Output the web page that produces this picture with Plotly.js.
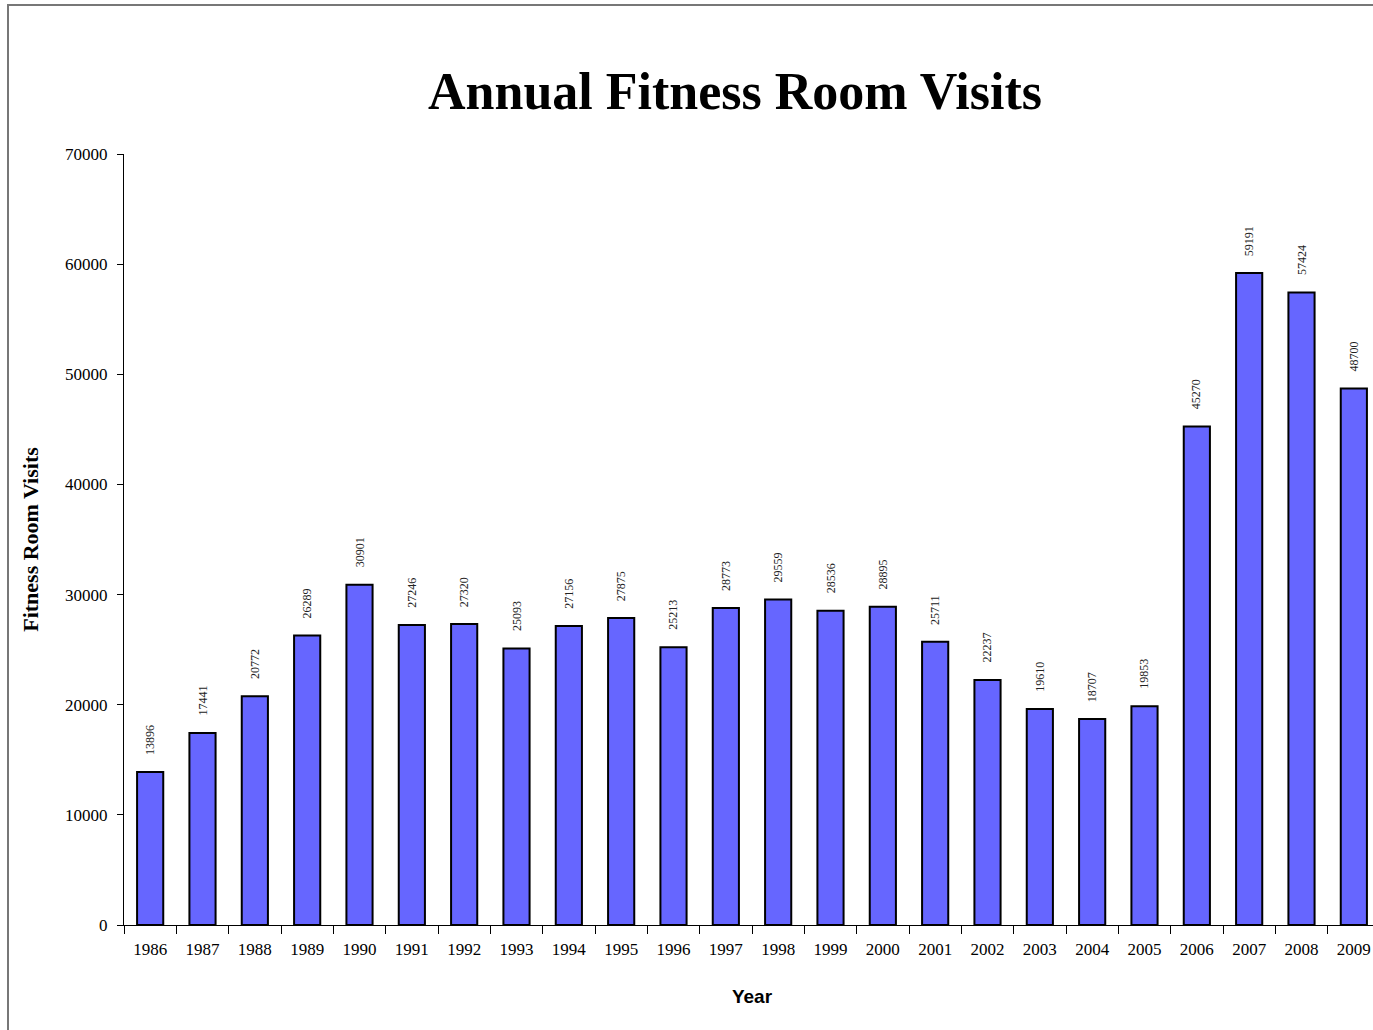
<!DOCTYPE html>
<html>
<head>
<meta charset="utf-8">
<script src="https://cdn.plot.ly/plotly-3.0.1.min.js"></script>
<style>
  html, body { margin: 0; padding: 0; background: #fff; overflow: hidden; }
  #frame { position: absolute; left: 7px; top: 4px; width: 2000px; height: 2000px;
           border-left: 2px solid #777; border-top: 2px solid #777; pointer-events: none; z-index: 5; }
  #chart { position: absolute; left: 0; top: 0; width: 1390px; height: 1030px; }
</style>
</head>
<body>
<div id="chart"></div>
<div id="frame"></div>
<script>
// Yearly visit counts for the fitness room
const years = ['1986','1987','1988','1989','1990','1991','1992','1993','1994','1995','1996','1997',
               '1998','1999','2000','2001','2002','2003','2004','2005','2006','2007','2008','2009'];
const visits = [13896, 17441, 20772, 26289, 30901, 27246, 27320, 25093, 27156, 27875, 25213, 28773,
                29559, 28536, 28895, 25711, 22237, 19610, 18707, 19853, 45270, 59191, 57424, 48700];
const yTickValues = [0, 10000, 20000, 30000, 40000, 50000, 60000, 70000];

const serif = '"Liberation Serif", "Times New Roman", serif';

const bars = {
  type: 'bar',
  x: years,
  y: visits,
  marker: { color: '#6666FF', line: { color: '#000000', width: 2 } },
  hoverinfo: 'x+y'
};

// value labels standing upright above each bar (category index on the x axis)
const valueLabels = years.map((yr, i) => ({
  x: i,
  y: visits[i],
  xref: 'x',
  yref: 'y',
  text: String(visits[i]),
  showarrow: false,
  textangle: -90,
  xanchor: 'center',
  yanchor: 'bottom',
  yshift: 15,
  font: { family: serif, size: 12, color: '#222' }
}));

const layout = {
  width: 1390,
  height: 1030,
  margin: { l: 124, r: 10, t: 154, b: 105 },
  paper_bgcolor: '#ffffff',
  plot_bgcolor: '#ffffff',
  showlegend: false,
  bargap: 0.5,
  title: {
    text: '<b>Annual Fitness Room Visits</b>',
    font: { family: serif, size: 52, color: '#000' },
    x: 735 / 1390,
    xref: 'container',
    xanchor: 'center',
    y: 1 - 91 / 1030,
    yref: 'container',
    yanchor: 'middle'
  },
  xaxis: {
    type: 'category',
    range: [-0.5, 23.5],
    showgrid: false,
    zeroline: false,
    showline: true,
    linecolor: '#000',
    linewidth: 1,
    ticks: 'outside',
    tickson: 'boundaries',
    ticklen: 8,
    tickcolor: '#000',
    tickwidth: 1,
    ticklabelstandoff: 9,
    tickfont: { family: serif, size: 17, color: '#000' },
    title: {
      text: '<b>Year</b>',
      font: { family: '"Liberation Sans", Arial, sans-serif', size: 19, color: '#000' },
      standoff: 31
    },
    fixedrange: true
  },
  yaxis: {
    range: [0, 70000],
    tickvals: yTickValues,
    ticktext: yTickValues.map(String),
    showgrid: false,
    zeroline: false,
    showline: true,
    linecolor: '#000',
    linewidth: 1,
    ticks: 'outside',
    ticklen: 6,
    tickcolor: '#000',
    tickwidth: 1,
    ticklabelstandoff: 6,
    tickfont: { family: serif, size: 17, color: '#000' },
    title: {
      text: '<b>Fitness Room Visits</b>',
      font: { family: serif, size: 22, color: '#000' },
      standoff: 20
    },
    fixedrange: true
  },
  annotations: valueLabels
};

Plotly.newPlot('chart', [bars], layout, { displayModeBar: false, staticPlot: true });
</script>
</body>
</html>
